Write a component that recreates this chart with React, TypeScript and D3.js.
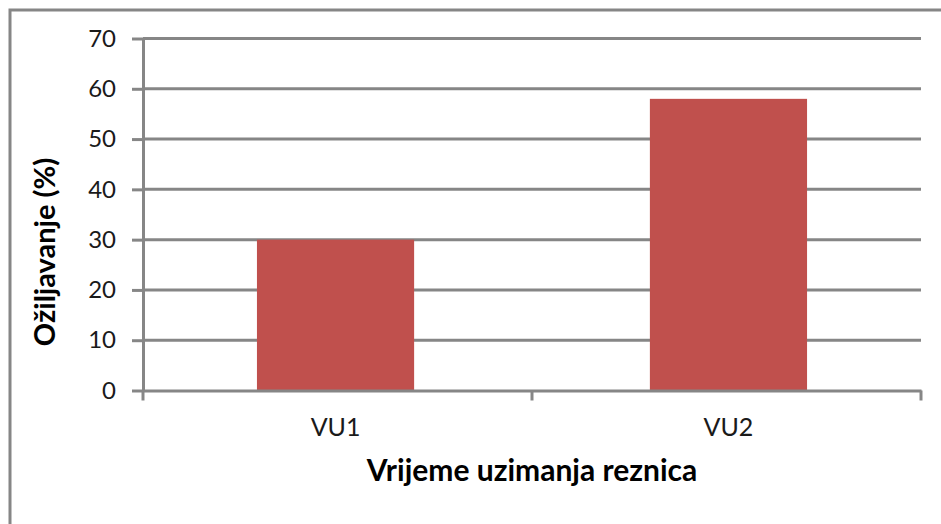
import { useEffect, useRef } from "react";
import * as d3 from "d3";

const categories = ["VU1", "VU2"];
const values = [30, 58];
const yTicks = [0, 10, 20, 30, 40, 50, 60, 70];

const WIDTH = 941;
const HEIGHT = 524;
const BAR_COLOR = "#C0504D";
const LINE_COLOR = "#868686";
const FONT = "Lato, 'Open Sans', sans-serif";

export default function App() {
  const svgRef = useRef<SVGSVGElement>(null);

  useEffect(() => {
    document.body.style.margin = "0";
    const svg = svgRef.current;
    if (!svg) return;

    const sel = d3.select(svg);
    sel.selectAll("*").remove();

    const plot = { left: 143, right: 921, top: 38.5, bottom: 390.5 };

    // outer frame (only top and left edges fall inside the picture)
    sel
      .append("rect")
      .attr("x", 10)
      .attr("y", 10)
      .attr("width", WIDTH + 20)
      .attr("height", HEIGHT + 20)
      .attr("fill", "none")
      .attr("stroke", LINE_COLOR)
      .attr("stroke-width", 3);

    const xScale = d3
      .scaleBand<string>()
      .domain(categories)
      .range([plot.left, plot.right])
      .paddingInner(0.6)
      .paddingOuter(0.29);

    const yScale = d3
      .scaleLinear()
      .domain([0, 70])
      .range([plot.bottom, plot.top]);

    // Grid lines
    sel
      .append("g")
      .selectAll("line")
      .data(yTicks.filter((d) => d > 0))
      .enter()
      .append("line")
      .attr("x1", plot.left)
      .attr("x2", plot.right)
      .attr("y1", (d) => yScale(d))
      .attr("y2", (d) => yScale(d))
      .attr("stroke", LINE_COLOR)
      .attr("stroke-width", 3);

    // Bars
    sel
      .append("g")
      .selectAll("rect")
      .data(categories)
      .enter()
      .append("rect")
      .attr("x", (d) => xScale(d) || 0)
      .attr("width", xScale.bandwidth())
      .attr("y", (_d, i) => yScale(values[i]))
      .attr("height", (_d, i) => plot.bottom - yScale(values[i]))
      .attr("fill", BAR_COLOR);

    // Y axis
    const yAxis = sel
      .append("g")
      .attr("transform", `translate(${plot.left},0)`)
      .call(
        d3
          .axisLeft(yScale)
          .tickValues(yTicks)
          .tickSize(11)
          .tickPadding(16)
          .tickSizeOuter(0)
      );
    yAxis.select(".domain").attr("stroke", LINE_COLOR).attr("stroke-width", 3);
    yAxis.selectAll(".tick line").attr("stroke", LINE_COLOR).attr("stroke-width", 3);
    yAxis
      .selectAll(".tick text")
      .attr("font-family", FONT)
      .attr("font-size", 24)
      .attr("fill", "#1a1a1a");

    // X axis
    const xAxis = sel
      .append("g")
      .attr("transform", `translate(0,${plot.bottom})`)
      .call(d3.axisBottom(xScale).tickSize(0).tickPadding(28).tickSizeOuter(0));
    xAxis.select(".domain").attr("stroke", LINE_COLOR).attr("stroke-width", 3);
    xAxis
      .selectAll(".tick text")
      .attr("font-family", FONT)
      .attr("font-size", 25)
      .attr("fill", "#1a1a1a");

    // boundary ticks between categories
    const boundaries = [
      plot.left,
      ...categories.map(
        (_c, i) => plot.left + (plot.right - plot.left) * ((i + 1) / categories.length)
      ),
    ];
    sel
      .append("g")
      .selectAll("line")
      .data(boundaries)
      .enter()
      .append("line")
      .attr("x1", (d) => d)
      .attr("x2", (d) => d)
      .attr("y1", plot.bottom)
      .attr("y2", plot.bottom + 10)
      .attr("stroke", LINE_COLOR)
      .attr("stroke-width", 3);

    // X axis title
    sel
      .append("text")
      .attr("x", (plot.left + plot.right) / 2)
      .attr("y", 481)
      .attr("text-anchor", "middle")
      .attr("font-family", FONT)
      .attr("font-weight", "bold")
      .attr("font-size", 30)
      .attr("fill", "#000")
      .text("Vrijeme uzimanja reznica");

    // Y axis title
    sel
      .append("text")
      .attr("transform", `translate(55,252) rotate(-90)`)
      .attr("text-anchor", "middle")
      .attr("font-family", FONT)
      .attr("font-weight", "bold")
      .attr("font-size", 29)
      .attr("fill", "#000")
      .text("Ožiljavanje (%)");
  }, []);

  return <svg ref={svgRef} width={WIDTH} height={HEIGHT} style={{ display: "block", background: "#fff" }} />;
}
